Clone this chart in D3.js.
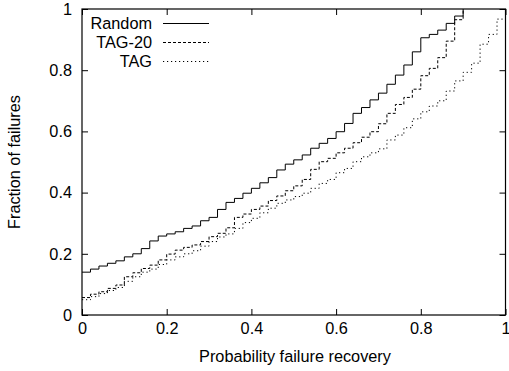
<!DOCTYPE html>
<html><head><meta charset="utf-8">
<script src="https://cdn.jsdelivr.net/npm/d3@7"></script>
<style>
html,body{margin:0;padding:0;background:#fff;}
svg text{font-family:"Liberation Sans",Arial,Helvetica,sans-serif;fill:#000;}
</style></head>
<body><svg id="chart" width="509" height="371"></svg>
<script>
const recovery = [0,0.02,0.04,0.06,0.08,0.10,0.12,0.14,0.16,0.18,0.20,0.22,0.24,0.26,0.28,0.30,0.32,0.34,0.36,0.38,0.40,0.42,0.44,0.46,0.48,0.50,0.52,0.54,0.56,0.58,0.60,0.62,0.64,0.66,0.68,0.70,0.72,0.74,0.76,0.78,0.80,0.82,0.84,0.86,0.88,0.90,0.92,0.94,0.96,0.98,1.00];
const randomVals = [0.14,0.15,0.16,0.169,0.177,0.19,0.20,0.217,0.242,0.258,0.265,0.272,0.283,0.291,0.308,0.319,0.345,0.368,0.381,0.398,0.414,0.432,0.449,0.474,0.493,0.507,0.523,0.545,0.561,0.577,0.599,0.626,0.659,0.678,0.703,0.725,0.754,0.784,0.817,0.860,0.906,0.917,0.931,0.953,0.977,1.0];
const tag20Vals = [0.057,0.068,0.076,0.087,0.098,0.125,0.138,0.152,0.163,0.180,0.199,0.212,0.221,0.229,0.240,0.256,0.267,0.285,0.319,0.330,0.345,0.356,0.374,0.389,0.406,0.422,0.443,0.476,0.501,0.512,0.530,0.545,0.563,0.581,0.599,0.625,0.659,0.688,0.711,0.738,0.782,0.806,0.841,0.895,0.965,1.0];
const tagVals = [0.05,0.06,0.07,0.08,0.09,0.11,0.125,0.14,0.15,0.165,0.18,0.19,0.20,0.21,0.225,0.24,0.255,0.265,0.283,0.302,0.316,0.334,0.349,0.365,0.376,0.387,0.398,0.414,0.430,0.443,0.465,0.479,0.501,0.517,0.530,0.543,0.572,0.588,0.612,0.641,0.664,0.683,0.700,0.732,0.765,0.793,0.823,0.885,0.917,0.967,1.0];
const seriesNames = ["Random","TAG-20","TAG"];
const xTicks = [0,0.2,0.4,0.6,0.8,1];
const yTicks = [0,0.2,0.4,0.6,0.8,1];
const xTitle = "Probability failure recovery";
const yTitle = "Fraction of failures";

const FS = 16.3;
const svg = d3.select("#chart");
const L = 82, R = 505.5, T = 9, B = 315;
const x = d3.scaleLinear().domain([0,1]).range([L,R]);
const y = d3.scaleLinear().domain([0,1]).range([B,T]);
const fmt = d => d === 0 || d === 1 ? String(d) : d.toFixed(1);

// axes with inward ticks (gnuplot mirror style)
const tl = 6;
svg.append("g").attr("transform",`translate(0,${B})`)
  .call(d3.axisBottom(x).tickValues(xTicks).tickSize(-tl).tickPadding(7).tickFormat(fmt))
  .call(g=>{g.select(".domain").remove(); g.selectAll("text").attr("font-size",FS);});
svg.append("g").attr("transform",`translate(0,${T})`)
  .call(d3.axisTop(x).tickValues(xTicks).tickSize(-tl).tickFormat(""))
  .call(g=>g.select(".domain").remove());
svg.append("g").attr("transform",`translate(${L},0)`)
  .call(d3.axisLeft(y).tickValues(yTicks).tickSize(-tl).tickPadding(10).tickFormat(fmt))
  .call(g=>{g.select(".domain").remove(); g.selectAll("text").attr("font-size",FS);});
svg.append("g").attr("transform",`translate(${R},0)`)
  .call(d3.axisRight(y).tickValues(yTicks).tickSize(-tl).tickFormat(""))
  .call(g=>g.select(".domain").remove());
svg.selectAll(".tick line").attr("stroke","#000");

const dashes = ["none","3,2","1.2,2.8"];
const data = [randomVals, tag20Vals, tagVals];
const line = d3.line().x(d=>x(d[0])).y(d=>y(d[1])).curve(d3.curveStepAfter);
data.forEach((vals,i)=>{
  const pts = vals.map((v,k)=>[recovery[k],v]);
  svg.append("path").datum(pts).attr("d",line)
    .attr("fill","none").attr("stroke","#000").attr("stroke-width",1)
    .attr("stroke-dasharray",dashes[i]);
});

// frame
svg.append("rect").attr("x",L).attr("y",T).attr("width",R-L).attr("height",B-T)
  .attr("fill","none").attr("stroke","#000").attr("stroke-width",1.2);

// legend
const legY = [23.5,42.5,61.5];
seriesNames.forEach((n,i)=>{
  svg.append("text").attr("x",152).attr("y",legY[i]).attr("dy","0.35em")
    .attr("text-anchor","end").attr("font-size",FS).text(n);
  svg.append("line").attr("x1",163).attr("x2",209).attr("y1",legY[i]).attr("y2",legY[i])
    .attr("stroke","#000").attr("stroke-width",1).attr("stroke-dasharray",dashes[i]);
});

// titles
svg.append("text").attr("x",295).attr("y",362).attr("text-anchor","middle")
  .attr("font-size",FS).text(xTitle);
svg.append("text").attr("transform",`translate(20,${(T+B)/2}) rotate(-90)`)
  .attr("text-anchor","middle").attr("font-size",FS).text(yTitle);
</script></body></html>
